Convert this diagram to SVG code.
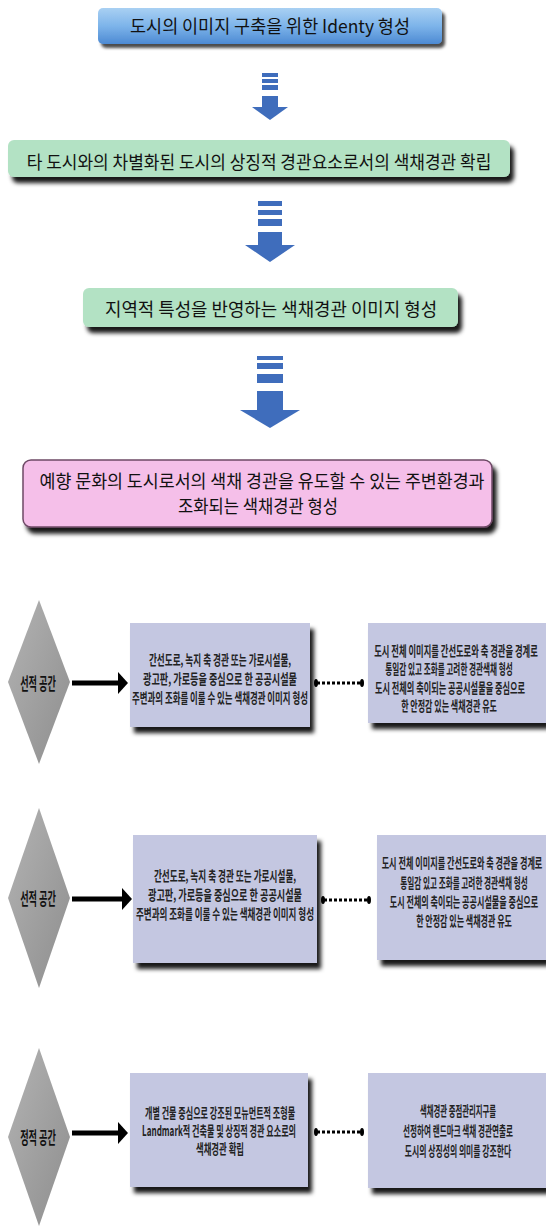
<svg xmlns="http://www.w3.org/2000/svg" width="546" height="1231" viewBox="0 0 546 1231">
<defs>
<linearGradient id="gBlue" x1="0" y1="0" x2="0" y2="1"><stop offset="0" stop-color="#a9d0f3"/><stop offset="0.5" stop-color="#7db4ea"/><stop offset="1" stop-color="#4d8ad3"/></linearGradient>
<linearGradient id="gGray" x1="0" y1="0" x2="1" y2="1"><stop offset="0" stop-color="#b3b3b3"/><stop offset="1" stop-color="#8e8e8e"/></linearGradient>
<filter id="sh" x="-10%" y="-20%" width="130%" height="160%"><feDropShadow dx="4" dy="6" stdDeviation="2" flood-color="#000" flood-opacity="0.9"/></filter>
<filter id="sh2" x="-10%" y="-20%" width="130%" height="160%"><feDropShadow dx="3" dy="4" stdDeviation="1.5" flood-color="#000" flood-opacity="0.7"/></filter>
<g id="blueArrow"><rect x="-8" y="0" width="16" height="4"/><rect x="-8" y="6" width="16" height="4"/><rect x="-8" y="12" width="16" height="5"/><rect x="-8" y="23" width="16" height="12"/><polygon points="-18,34 18,34 0,47"/></g>
<g id="midArrow"><rect x="-12" y="0" width="24" height="5"/><rect x="-12" y="9" width="24" height="5"/><rect x="-12" y="18" width="24" height="7"/><rect x="-12" y="31" width="24" height="14"/><polygon points="-25,44 25,44 0,61"/></g>
<g id="bigArrow"><rect x="-13" y="0" width="26" height="4"/><rect x="-13" y="7" width="26" height="6"/><rect x="-13" y="18" width="26" height="9"/><rect x="-13" y="35" width="26" height="21"/><polygon points="-30,54 30,54 0,72"/></g>
</defs>
<style>
.t{font-family:"Noto Sans CJK KR","Noto Sans",sans-serif;fill:#111;text-anchor:middle;dominant-baseline:central}
.big{font-size:18px}
.sm{font-size:14px;font-weight:bold;fill:#222}
.lbl{font-size:17px;font-weight:bold;fill:#111}
.green{fill:#b3e2c4}
.lav{fill:#c4c7e1}
.dia{fill:url(#gGray)}
.arr{fill:#3f6dbc}
</style>
<rect width="546" height="1231" fill="#fff"/>

<g id="n1"><rect x="98" y="8" width="344" height="36" rx="5" fill="url(#gBlue)" filter="url(#sh2)"/>
<text class="t big" transform="translate(270 25) scale(0.9 1)" textLength="311" lengthAdjust="spacingAndGlyphs">도시의 이미지 구축을 위한 Identy 형성</text></g>

<g id="n2"><rect x="8" y="140" width="502" height="37" rx="6" class="green" filter="url(#sh)"/>
<text class="t big" transform="translate(259 161) scale(0.875 1)" textLength="531" lengthAdjust="spacingAndGlyphs">타 도시와의 차별화된 도시의 상징적 경관요소로서의 색채경관 확립</text></g>

<g id="n3"><rect x="83" y="288" width="375" height="39" rx="6" class="green" filter="url(#sh)"/>
<text class="t big" transform="translate(271 308) scale(0.92 1)" textLength="361" lengthAdjust="spacingAndGlyphs">지역적 특성을 반영하는 색채경관 이미지 형성</text></g>

<g id="n4"><rect x="23" y="460" width="469" height="67" rx="8" fill="#f5bfe9" stroke="#6e4a66" stroke-width="1.5" filter="url(#sh)"/>
<text class="t big" transform="translate(262 480) scale(0.89 1)" textLength="500" lengthAdjust="spacingAndGlyphs">예향 문화의 도시로서의 색채 경관을 유도할 수 있는 주변환경과</text>
<text class="t big" transform="translate(258 505) scale(0.85 1)" textLength="188" lengthAdjust="spacingAndGlyphs">조화되는 색채경관 형성</text></g>

<g id="d1"><polygon points="39,600 70,682 39,764 8,682" class="dia"/><text class="t lbl" transform="translate(38 683) scale(0.55 1)" textLength="65" lengthAdjust="spacingAndGlyphs">선적 공간</text></g>
<g id="b1"><rect x="130" y="623" width="180" height="104" class="lav" filter="url(#sh)"/>
<text class="t sm" transform="translate(220 659) scale(0.56 1)" textLength="254" lengthAdjust="spacingAndGlyphs">간선도로, 녹지 축 경관 또는 가로시설물,</text>
<text class="t sm" transform="translate(220 678) scale(0.56 1)" textLength="275" lengthAdjust="spacingAndGlyphs">광고판, 가로등을 중심으로 한 공공시설물</text>
<text class="t sm" transform="translate(220 697) scale(0.56 1)" textLength="314" lengthAdjust="spacingAndGlyphs">주변과의 조화를 이룰 수 있는 색채경관 이미지 형성</text></g>
<g id="r1"><rect x="368" y="623" width="178" height="100" class="lav" filter="url(#sh)"/>
<text class="t sm" transform="translate(456 650) scale(0.56 1)" textLength="292" lengthAdjust="spacingAndGlyphs">도시 전체 이미지를 간선도로와 축 경관을 경계로</text>
<text class="t sm" transform="translate(449 668) scale(0.56 1)" textLength="228" lengthAdjust="spacingAndGlyphs">통일감 있고 조화를 고려한 경관색채 형성</text>
<text class="t sm" transform="translate(450 687) scale(0.56 1)" textLength="268" lengthAdjust="spacingAndGlyphs">도시 전체의 축이되는 공공시설물을 중심으로</text>
<text class="t sm" transform="translate(449 705) scale(0.56 1)" textLength="171" lengthAdjust="spacingAndGlyphs">한 안정감 있는 색채경관 유도</text></g>

<g id="d2"><polygon points="39,808 70,898 39,988 8,898" class="dia"/><text class="t lbl" transform="translate(38 898) scale(0.55 1)" textLength="65" lengthAdjust="spacingAndGlyphs">선적 공간</text></g>
<g id="b2"><rect x="133" y="835" width="184" height="128" class="lav" filter="url(#sh)"/>
<text class="t sm" transform="translate(225 875) scale(0.56 1)" textLength="254" lengthAdjust="spacingAndGlyphs">간선도로, 녹지 축 경관 또는 가로시설물,</text>
<text class="t sm" transform="translate(225 894) scale(0.56 1)" textLength="275" lengthAdjust="spacingAndGlyphs">광고판, 가로등을 중심으로 한 공공시설물</text>
<text class="t sm" transform="translate(225 913) scale(0.56 1)" textLength="318" lengthAdjust="spacingAndGlyphs">주변과의 조화를 이룰 수 있는 색채경관 이미지 형성</text></g>
<g id="r2"><rect x="377" y="835" width="169" height="125" class="lav" filter="url(#sh)"/>
<text class="t sm" transform="translate(462 862) scale(0.56 1)" textLength="287" lengthAdjust="spacingAndGlyphs">도시 전체 이미지를 간선도로와 축 경관을 경계로</text>
<text class="t sm" transform="translate(464 882) scale(0.56 1)" textLength="228" lengthAdjust="spacingAndGlyphs">통일감 있고 조화를 고려한 경관색채 형성</text>
<text class="t sm" transform="translate(464 901) scale(0.56 1)" textLength="265" lengthAdjust="spacingAndGlyphs">도시 전체의 축이되는 공공시설물을 중심으로</text>
<text class="t sm" transform="translate(464 920) scale(0.56 1)" textLength="171" lengthAdjust="spacingAndGlyphs">한 안정감 있는 색채경관 유도</text></g>

<g id="d3"><polygon points="39,1048 70,1137 39,1226 8,1137" class="dia"/><text class="t lbl" transform="translate(38 1137) scale(0.55 1)" textLength="65" lengthAdjust="spacingAndGlyphs">정적 공간</text></g>
<g id="b3"><rect x="130" y="1073" width="178" height="114" class="lav" filter="url(#sh)"/>
<text class="t sm" transform="translate(220 1112) scale(0.56 1)" textLength="268" lengthAdjust="spacingAndGlyphs">개별 건물 중심으로 강조된 모뉴먼트적 조형물</text>
<text class="t sm" transform="translate(219 1130) scale(0.56 1)" textLength="275" lengthAdjust="spacingAndGlyphs">Landmark적 건축물 및 상징적 경관 요소로의</text>
<text class="t sm" transform="translate(220 1148) scale(0.56 1)" textLength="86" lengthAdjust="spacingAndGlyphs">색채경관 확립</text></g>
<g id="r3"><rect x="368" y="1073" width="178" height="115" class="lav" filter="url(#sh)"/>
<text class="t sm" transform="translate(458 1110) scale(0.56 1)" textLength="136" lengthAdjust="spacingAndGlyphs">색채경관 중점관리지구를</text>
<text class="t sm" transform="translate(458 1130) scale(0.56 1)" textLength="196" lengthAdjust="spacingAndGlyphs">선정하여 랜드마크 색채 경관연출로</text>
<text class="t sm" transform="translate(458 1150) scale(0.56 1)" textLength="190" lengthAdjust="spacingAndGlyphs">도시의 상징성의 의미를 강조한다</text></g>

<g id="connectors">
<use href="#blueArrow" x="270" y="73" class="arr"/>
<use href="#midArrow" x="270" y="201" class="arr"/>
<use href="#bigArrow" x="270" y="356" class="arr"/>
<g fill="#000" stroke="#000">
<line x1="72" y1="683" x2="120" y2="683" stroke-width="5"/><polygon points="118,672 128,683 118,694" stroke="none"/>
<line x1="72" y1="899" x2="124" y2="899" stroke-width="5"/><polygon points="122,888 132,899 122,910" stroke="none"/>
<line x1="72" y1="1133" x2="120" y2="1133" stroke-width="5"/><polygon points="118,1122 128,1133 118,1144" stroke="none"/>
<line x1="317" y1="683" x2="361" y2="683" stroke-width="3" stroke-dasharray="3,2"/><ellipse cx="316" cy="683" rx="2" ry="4" stroke="none"/><ellipse cx="362" cy="683" rx="2" ry="4" stroke="none"/>
<line x1="324" y1="900" x2="368" y2="900" stroke-width="3" stroke-dasharray="3,2"/><ellipse cx="323" cy="900" rx="2" ry="4" stroke="none"/><ellipse cx="369" cy="900" rx="2" ry="4" stroke="none"/>
<line x1="317" y1="1132" x2="361" y2="1132" stroke-width="3" stroke-dasharray="3,2"/><ellipse cx="316" cy="1132" rx="2" ry="4" stroke="none"/><ellipse cx="362" cy="1132" rx="2" ry="4" stroke="none"/>
</g>
</g>
</svg>
